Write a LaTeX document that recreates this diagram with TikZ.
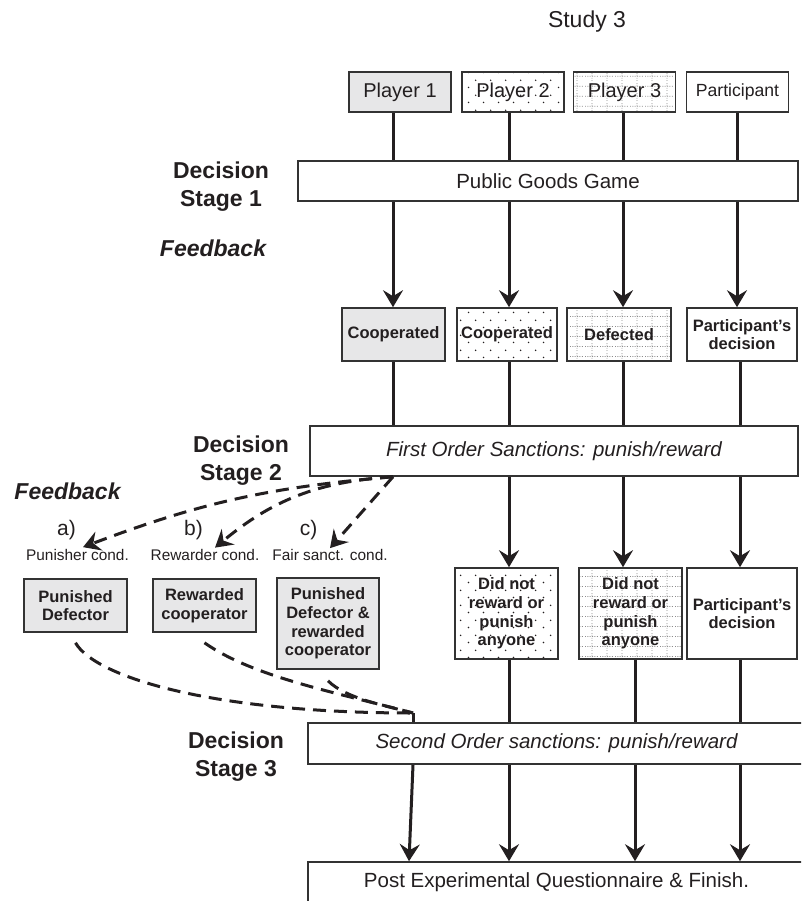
\documentclass[tikz,border=0pt]{standalone}
\usepackage{fontspec}
\setmainfont{Liberation Sans}
\definecolor{mygrey}{rgb}{0.906,0.906,0.910}
\definecolor{myline}{rgb}{0.20,0.20,0.20}
\definecolor{myink}{rgb}{0.137,0.122,0.125}
\usetikzlibrary{arrows.meta, calc, patterns}

\pgfdeclarepatternformonly{sparsedots}{\pgfqpoint{0pt}{0pt}}{\pgfqpoint{15pt}{15pt}}{\pgfqpoint{15pt}{15pt}}{%
  \pgfpathcircle{\pgfqpoint{3.75pt}{3.75pt}}{0.9pt}%
  \pgfpathcircle{\pgfqpoint{11.25pt}{11.25pt}}{0.9pt}%
  \pgfusepath{fill}%
}
\pgfdeclarepatternformonly{dotgrid}{\pgfqpoint{0pt}{0pt}}{\pgfqpoint{15pt}{10pt}}{\pgfqpoint{15pt}{10pt}}{%
  \pgfsetlinewidth{0.8pt}%
  \pgfsetdash{{1pt}{1.5pt}}{0pt}%
  \pgfpathmoveto{\pgfqpoint{7.5pt}{0pt}}\pgfpathlineto{\pgfqpoint{7.5pt}{10pt}}%
  \pgfpathmoveto{\pgfqpoint{0pt}{5pt}}\pgfpathlineto{\pgfqpoint{15pt}{5pt}}%
  \pgfusepath{stroke}%
}

\tikzset{
    box/.style={
           rectangle,
           draw=myline, line width=1.6pt,
           inner sep=0pt,
           align=center,
           text=myink,
           font=\fontsize{20.5}{24}\selectfont,
           },
    greybox/.style={fill=mygrey},
    spotty/.style={pattern=sparsedots, pattern color=myink},
    gridded/.style={pattern=dotgrid, pattern color=black!45},
    player/.style={minimum width=102, minimum height=40, font=\fontsize{20}{24}\selectfont},
    fbrow/.style={minimum height=53, font=\fontsize{16.5}{18.6}\selectfont\bfseries},
    tallbox/.style={fbrow, minimum width=103, minimum height=91},
    stage/.style={font=\fontsize{23}{28}\selectfont\bfseries, align=center, text=myink, inner sep=0pt},
    feed/.style={font=\fontsize{23}{28}\selectfont\bfseries\itshape, text=myink, inner sep=0pt},
    cond/.style={font=\fontsize{15.4}{18}\selectfont, text=myink, inner sep=0pt},
    condletter/.style={font=\fontsize{21}{24}\selectfont, text=myink, inner sep=0pt},
    link/.style={line width=3pt, draw=myink},
    arr/.style={link, -{Stealth[length=17pt, width=20pt, inset=6pt]}},
    dashlink/.style={link, dash pattern=on 13pt off 8pt},
    dasharr/.style={dashlink, -{Stealth[length=17pt, width=20pt, inset=6pt]}},
}
\newcommand{\PGG}{Public Goods Game}
\newcommand{\FirstOS}{First Order Sanctions: punish/reward}
\newcommand{\SecondOS}{Second Order sanctions: punish/reward}
\newcommand{\PostQ}{Post Experimental Questionnaire \& Finish.}
\newcommand{\PartDec}{Participant's\\decision}
\newcommand{\NoSanct}{Did not\\reward or\\punish\\anyone}

\begin{document}
\begin{tikzpicture}[x=1pt, y=1pt]
      \useasboundingbox (0,0) rectangle (801,-901);
      \clip (0,0) rectangle (801,-901);
      % columns
      \coordinate (c1) at (393,0);
      \coordinate (c2) at (509,0);
      \coordinate (c3) at (623,0);
      \coordinate (c4) at (737,0);
      \coordinate (d3) at (635,0);
      \coordinate (d4) at (740,0);
      \coordinate (M)  at (413,-713);

      \node[font=\fontsize{23}{26}\selectfont, text=myink] (T) at (587,-22) {Study 3};

      \node[box, greybox, player] (P1) at (400,  -92) {Player 1};
      \node[box, spotty, player]  (P2) at (513,  -92) {Player 2};
      \node[box, gridded, player] (P3) at (624.5,-92) {Player 3};
      \node[box, player, font=\fontsize{17.6}{20}\selectfont] (PA) at (737.5,-92) {Participant};
      \node[box, minimum width=500, minimum height=40] (G) at (548,-181) {\PGG};

      \node[box, greybox, fbrow, minimum width=103] (F1) at (393.5,-334.5) {Cooperated};
      \node[box, spotty, fbrow, minimum width=100]  (F2) at (507,  -334.5) {Cooperated};
      \node[box, gridded, fbrow, minimum width=104] (F3) at (619,  -334.5) {Defected};
      \node[box, fbrow, minimum width=110]          (F4) at (742,  -334.5) {\PartDec};

      \node[box, minimum width=488, minimum height=50, font=\fontsize{20.5}{24}\selectfont\itshape] (S1) at (554,-451) {\FirstOS};

      \node[box, spotty, tallbox]                   (N2) at (506.5,-613.5) {\NoSanct};
      \node[box, gridded, tallbox]                  (N3) at (630.5,-613.5) {\NoSanct};
      \node[box, tallbox, minimum width=110]        (N4) at (742,  -613.5) {\PartDec};

      \node[box, greybox, fbrow, minimum width=103]   (R1) at (75.5, -605.5) {Punished\\Defector};
      \node[box, greybox, fbrow, minimum width=103]   (R2) at (204.5,-605.5) {Rewarded\\cooperator};
      \node[box, greybox, tallbox, minimum width=102] (R3) at (328,  -623.5) {Punished\\Defector \&\\rewarded\\cooperator};

      \node[box, minimum width=497, minimum height=41, font=\fontsize{20.5}{24}\selectfont\itshape] (S2) at (556.5,-743.5) {\SecondOS};
      \node[box, minimum width=497, text height=25, text depth=23, anchor=base] (Q) at (556.5,-887) {\PostQ};

      \node[stage] (D1) at (221,-187) {Decision\\Stage 1};
      \node[feed]  (B1) at (213,-248) {Feedback};
      \node[stage] (D2) at (241,-461) {Decision\\Stage 2};
      \node[feed]  (B2) at (67.5,-491) {Feedback};
      \node[stage] (D3) at (236,-757) {Decision\\Stage 3};

      \node[condletter] (La) at (66.5,-530) {a)};
      \node[condletter] (Lb) at (193.5,-530) {b)};
      \node[condletter] (Lc) at (308.5,-530) {c)};
      \node[cond] (Ca) at (77.5,-555) {Punisher cond.};
      \node[cond] (Cb) at (205, -555) {Rewarder cond.};
      \node[cond] (Cc) at (330, -555) {Fair sanct. cond.};

      \draw[link] (P1.south -| c1) edge (G.north -| c1)
                  (P2.south -| c2) edge (G.north -| c2)
                  (P3.south -| c3) edge (G.north -| c3)
                  (PA.south -| c4) edge (G.north -| c4);
      \draw[link] (G.south -| c1) edge[arr] (F1.north -| c1)
                  (G.south -| c2) edge[arr] (F2.north -| c2)
                  (G.south -| c3) edge[arr] (F3.north -| c3)
                  (G.south -| c4) edge[arr] (F4.north -| c4);
      \draw[link] (F1.south -| c1) edge (S1.north -| c1)
                  (F2.south -| c2) edge (S1.north -| c2)
                  (F3.south -| c3) edge (S1.north -| c3)
                  (F4.south -| d4) edge (S1.north -| d4);
      \draw[link] (S1.south -| c2) edge[arr] (N2.north -| c2)
                  (S1.south -| c3) edge[arr] (N3.north -| c3)
                  (S1.south -| d4) edge[arr] (N4.north -| d4);
      \draw[link] (N2.south -| c2) edge (S2.north -| c2)
                  (N3.south -| d3) edge (S2.north -| d3)
                  (N4.south -| d4) edge (S2.north -| d4);
      \draw[link] (S2.south -| M)  edge[arr] ($(Q.north -| M)+(-4,0)$)
                  (S2.south -| c2) edge[arr] (Q.north -| c2)
                  (S2.south -| d3) edge[arr] (Q.north -| d3)
                  (S2.south -| d4) edge[arr] (Q.north -| d4);

      % feedback of the three conditions
      \draw[dashlink] (S1.south -| c1) edge[dasharr, bend right=8]  ($(Ca.north)+(5.5,2)$)
                      (S1.south -| c1) edge[dasharr, bend right=18] ($(Cb.north)+(10,1.5)$)
                      (S1.south -| c1) edge[dasharr]                ($(Cc.north)+(0,1)$);
      \draw[dashlink] ([yshift=-10]R1.south) .. controls +(-60:40) and +(180:200) .. (M);
      \draw[dashlink] ([yshift=-10]R2.south) .. controls +(-35:60) and +(165:80) .. (M);
      \draw[dashlink] ([yshift=-11]R3.south) .. controls +(-45:25) and +(165:30) .. (M);
      \draw[link] (M) -- (M |- S2.north);
\end{tikzpicture}
\end{document}
